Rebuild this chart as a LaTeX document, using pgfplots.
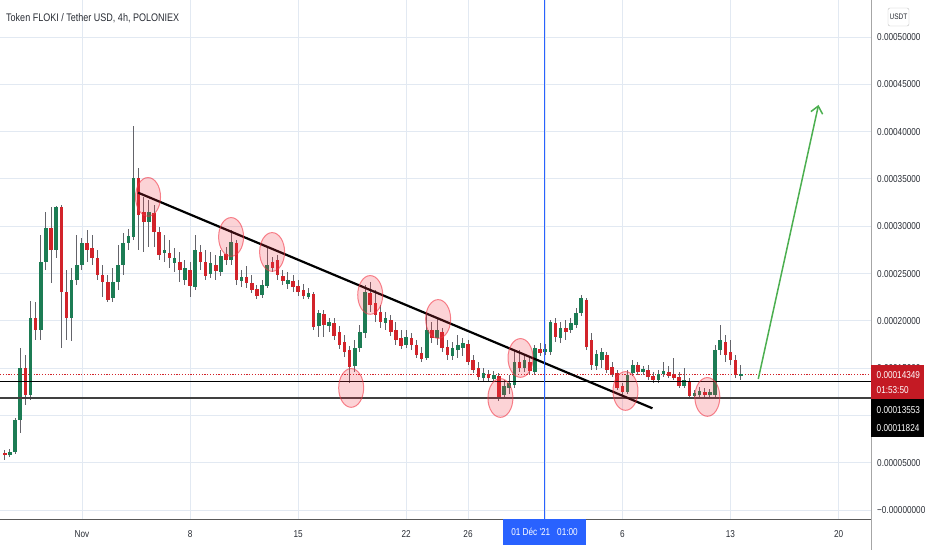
\documentclass[border=0pt]{standalone}
\usepackage{pgfplots}
\pgfplotsset{compat=1.18}
\usepackage{pgfplotstable}
\usetikzlibrary{arrows.meta}
\usepackage{fontspec}
\setmainfont{Liberation Sans}
\newfontfamily\tvfont[FakeStretch=0.82]{Liberation Sans}
\definecolor{upcol}{RGB}{28,124,84}
\definecolor{dncol}{RGB}{210,35,42}
\definecolor{wickcol}{RGB}{100,100,106}
\definecolor{gridcol}{RGB}{226,233,242}
\definecolor{ellcol}{RGB}{242,54,69}
\definecolor{arrowcol}{RGB}{76,175,80}
\definecolor{tvblue}{RGB}{41,98,255}
\definecolor{boxred}{RGB}{196,26,36}
\definecolor{txtcol}{RGB}{40,44,52}

% 8h candles: i = index (3 per day, 0 = 1 Nov), prices in 1e-5 USDT
\pgfplotstableread{
i o h l c
-15 6.03 6.34 5.29 5.81
-14 5.81 6.45 5.60 6.13
-13 6.13 9.73 5.92 9.51
-12 9.51 17.13 8.14 15.01
-11 15.01 16.39 11.10 12.16
-10 12.16 22.09 11.63 20.30
-9 20.30 21.99 17.97 19.03
-8 19.03 29.07 17.97 26.22
-7 26.22 31.50 25.37 29.81
-6 29.81 32.03 24.00 27.48
-5 27.48 32.14 26.64 32.03
-4 32.03 32.24 17.13 23.04
-3 23.04 25.37 17.97 20.30
-2 20.30 25.58 17.87 24.31
-1 24.31 29.07 23.78 25.90
0 25.90 28.75 25.37 28.22
1 28.22 29.60 26.22 27.48
2 27.70 29.07 25.90 26.64
3 26.64 27.48 24.31 24.84
4 24.84 25.90 22.52 24.10
5 24.10 24.84 21.99 22.20
6 22.41 25.58 21.99 24.10
7 24.10 28.01 23.26 25.90
8 25.90 29.28 24.84 28.22
9 28.22 29.70 27.48 28.96
10 28.86 40.59 28.54 35.10
11 35.10 36.15 27.48 31.18
12 31.50 33.09 27.27 30.44
13 30.44 32.77 27.80 31.50
14 31.40 32.24 27.80 29.39
15 29.39 29.92 26.43 26.96
16 27.17 29.07 26.22 27.48
17 27.17 28.54 25.58 26.64
18 26.11 27.70 25.16 26.64
19 26.22 27.27 24.10 25.37
20 24.31 26.43 23.78 25.58
21 25.37 26.22 22.52 23.68
22 23.57 29.07 23.26 27.48
23 27.27 28.01 25.37 26.22
24 26.22 27.48 24.31 24.74
25 24.95 27.27 24.52 26.11
26 25.90 26.96 24.31 25.26
27 25.16 27.48 24.74 26.85
28 27.06 27.80 25.90 26.43
29 26.43 29.60 25.90 28.33
30 28.22 28.54 23.78 24.31
31 24.21 25.37 23.57 24.63
32 24.63 25.79 23.47 24.00
33 24.00 24.84 22.94 23.26
34 23.36 23.78 22.30 22.62
35 22.73 24.31 22.41 23.78
36 23.68 27.80 23.47 25.90
37 26.22 26.74 25.16 25.58
38 26.43 26.96 24.31 24.84
39 24.74 25.37 23.78 24.21
40 23.89 25.16 23.36 24.31
41 24.21 24.84 23.04 23.57
42 23.68 24.31 22.62 23.04
43 23.26 23.89 22.30 22.62
44 22.52 23.47 22.30 22.94
45 22.83 23.04 19.03 19.35
46 19.45 21.14 18.29 20.82
47 20.72 21.14 18.29 19.56
48 19.45 20.30 18.82 19.87
49 19.77 20.30 17.97 18.39
50 18.82 19.45 17.02 17.44
51 17.76 18.50 16.17 16.70
52 16.91 17.34 13.43 15.12
53 15.22 17.97 14.59 17.13
54 17.13 19.56 16.70 18.82
55 18.71 23.78 18.18 23.04
56 22.94 24.10 20.93 21.67
57 21.88 23.26 19.87 20.61
58 20.93 21.67 19.24 19.87
59 19.77 20.93 19.03 20.30
60 20.08 20.61 18.39 18.82
61 19.03 19.87 17.44 17.97
62 18.18 19.03 17.02 17.34
63 17.44 19.03 17.13 18.29
64 18.18 18.71 16.91 17.44
65 17.44 17.97 16.07 16.39
66 16.60 17.23 15.65 15.96
67 16.07 20.61 15.86 19.03
68 19.03 19.87 17.65 18.18
69 18.18 20.30 17.44 19.03
70 18.82 19.24 16.70 17.13
71 17.23 17.97 15.86 16.39
72 16.28 17.76 15.86 17.13
73 16.91 18.50 16.07 17.44
74 17.13 18.18 16.28 17.65
75 17.55 17.97 15.33 15.65
76 15.86 16.39 14.48 14.80
77 15.01 15.65 13.74 14.06
78 13.95 15.01 13.64 14.48
79 14.38 14.80 13.64 13.95
80 13.85 14.69 13.53 14.27
81 14.17 14.48 11.52 11.95
82 12.16 13.74 11.84 13.11
83 12.90 14.27 12.26 13.43
84 13.21 16.91 12.90 15.65
85 15.65 16.91 14.59 15.01
86 15.01 16.49 14.59 15.86
87 15.65 16.17 14.38 14.69
88 14.59 17.44 14.27 17.13
89 17.02 17.65 16.28 16.60
90 16.70 17.55 16.39 17.02
91 16.70 20.08 16.39 19.87
92 19.77 20.30 17.76 18.29
93 18.18 19.87 17.65 19.24
94 19.24 20.08 17.97 18.82
95 19.03 20.30 18.71 19.77
96 19.56 21.35 19.24 20.82
97 20.82 22.73 20.51 22.41
98 22.20 22.41 16.91 17.23
99 17.97 18.71 14.80 15.33
100 15.22 16.91 14.80 16.49
101 15.86 17.13 15.01 16.70
102 16.39 16.70 14.48 14.80
103 15.12 15.65 14.06 14.38
104 14.48 14.80 12.69 12.90
105 13.11 13.43 12.05 12.47
106 12.47 14.80 12.26 14.27
107 14.48 15.86 14.17 15.33
108 15.33 15.65 14.27 14.59
109 14.59 15.22 14.27 14.91
110 14.80 15.33 13.74 14.06
111 14.17 14.59 13.43 13.74
112 13.74 14.80 13.43 14.38
113 14.38 15.65 14.06 14.69
114 14.59 15.22 13.95 14.17
115 14.38 16.07 13.74 13.95
116 14.06 14.59 12.90 13.11
117 13.11 15.01 12.90 13.74
118 13.64 13.95 11.84 12.05
119 12.05 12.69 11.73 12.37
120 12.16 13.00 11.84 12.58
121 12.47 12.90 11.84 12.16
122 12.16 12.79 11.95 12.47
123 12.16 17.44 11.95 16.91
124 16.91 19.56 16.39 17.97
125 17.76 18.50 15.65 16.39
126 16.70 17.97 15.33 15.86
127 15.86 16.39 13.95 14.27
128 14.17 15.33 13.74 14.35
}\candles

\begin{document}
\begin{tikzpicture}
\begin{axis}[
  at={(0pt,0pt)}, anchor=south west, scale only axis,
  width=871pt, height=519pt,
  xmin=-15.93, xmax=153.3, ymin=-0.95, ymax=53.9,
  axis x line*=bottom, axis y line*=right,
  axis line style={-},
  x axis line style={draw=black!65, line width=1pt},
  y axis line style={draw=black!35, line width=0.8pt},
  xtick={0,21,42,63,75,90,105,126,147},
  xticklabels={Nov,8,15,22,26,,6,13,20},
  ytick={0,5,...,50},
  yticklabels={−0.00000000,0.00005000,,0.00015000,0.00020000,0.00025000,0.00030000,0.00035000,0.00040000,0.00045000,0.00050000},
  major tick length=0pt,
  grid=major, grid style={draw=gridcol, line width=0.8pt},
  tick label style={font=\tvfont\fontsize{10}{12}\selectfont, text=txtcol},
  xticklabel style={anchor=base, inner sep=0pt, yshift=-18.6pt},
  yticklabel style={anchor=base west, inner sep=0pt, xshift=6pt, yshift=-3.6pt},
]
% last price line
\addplot[dncol, line width=0.9pt, dash pattern=on 1.2pt off 1.6pt, forget plot] coordinates {(-15.93,14.349) (153.3,14.349)};

% wicks
\addplot[draw=none, mark=none, forget plot,
  error bars/.cd, y dir=plus, y explicit, error mark=none,
  error bar style={draw=wickcol, line width=1pt}]
  table[x=i, y=l, y error plus expr=\thisrow{h}-\thisrow{l}] {\candles};
% rising bodies
\addplot[draw=none, mark=none, forget plot,
  restrict expr to domain={\thisrow{c}-\thisrow{o}}{0:100},
  error bars/.cd, y dir=plus, y explicit, error mark=none,
  error bar style={draw=upcol, line width=3.6pt}]
  table[x=i, y=o, y error plus expr=\thisrow{c}-\thisrow{o}] {\candles};
% falling bodies
\addplot[draw=none, mark=none, forget plot,
  restrict expr to domain={\thisrow{o}-\thisrow{c}}{0:100},
  error bars/.cd, y dir=plus, y explicit, error mark=none,
  error bar style={draw=dncol, line width=3.6pt}]
  table[x=i, y=c, y error plus expr=\thisrow{o}-\thisrow{c}] {\candles};

% support lines
\addplot[black, line width=1.3pt, forget plot] coordinates {(-15.93,13.553) (153.3,13.553)};
\addplot[black!75, line width=2pt, forget plot] coordinates {(-15.93,11.824) (153.3,11.824)};

% highlighted touches
\addplot[only marks, mark=*, mark size=12.5pt, forget plot,
  mark options={yscale=1.55, draw=ellcol, draw opacity=0.6, fill=ellcol, fill opacity=0.22, line width=1pt}]
  coordinates {(12.83,33.09) (28.97,28.86) (36.94,27.27) (56.0,22.73) (52.3,12.90)
               (69.2,20.19) (81.3,11.84) (85.2,16.07) (105.6,12.58) (121.5,11.95)};

% trend line
\addplot[black, line width=2.2pt, forget plot] coordinates {(10.89,33.54) (110.83,10.75)};

% projection arrow
\addplot[arrowcol, line width=1.5pt, forget plot, -{Straight Barb[length=7pt,width=12pt,line width=1.5pt]}]
  coordinates {(131.4,13.85) (143.1,42.81)};

% crosshair
\addplot[tvblue, line width=0.8pt, forget plot] coordinates {(89.83,-0.95) (89.83,53.9)};
\end{axis}

\draw[black!35, line width=0.8pt] (871pt,0pt) -- (871pt,-31pt);

\node[anchor=base west, inner sep=0pt, text=txtcol, font=\tvfont\fontsize{11}{13}\selectfont]
  at (6pt,497.3pt) {Token FLOKI / Tether USD, 4h, POLONIEX};

\node[draw=black!25, rounded corners=2pt, fill=white, text=txtcol, minimum width=21pt,
  minimum height=18pt, inner sep=0pt, font=\tvfont\fontsize{8}{9}\selectfont] at (898.5pt,502pt) {USDT};

\fill[boxred] (870.7pt,119.7pt) rectangle (924pt,154pt);
\node[anchor=base west, inner sep=0pt, text=white, font=\tvfont\fontsize{10}{12}\selectfont] at (876.5pt,140.4pt) {0.00014349};
\node[anchor=base west, inner sep=0pt, text=white, font=\tvfont\fontsize{10}{12}\selectfont] at (876.5pt,125.4pt) {01:53:50};
\fill[black] (870.7pt,82.3pt) rectangle (924pt,119.7pt);
\node[anchor=base west, inner sep=0pt, text=white, font=\tvfont\fontsize{10}{12}\selectfont] at (876.5pt,105.4pt) {0.00013553};
\node[anchor=base west, inner sep=0pt, text=white, font=\tvfont\fontsize{10}{12}\selectfont] at (876.5pt,87.4pt) {0.00011824};

\node[fill=tvblue, text=white, inner sep=0pt, minimum width=83pt, minimum height=25.5pt,
  font=\tvfont\fontsize{10}{12}\selectfont] at (544.5pt,-12.9pt) {01 Déc '21\hspace{7pt}01:00};

\pgfresetboundingbox
\path[use as bounding box] (0pt,-31pt) rectangle (932pt,519pt);
\end{tikzpicture}
\end{document}
